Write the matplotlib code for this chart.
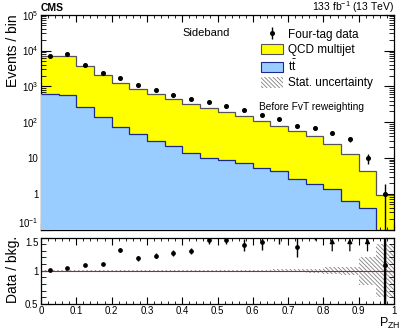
"""CMS-style stacked histogram with data/bkg ratio panel"""
import matplotlib
matplotlib.use("Agg")
import matplotlib.pyplot as plt
import numpy as np
from matplotlib.patches import Patch
from matplotlib.ticker import MultipleLocator, FixedLocator, NullFormatter, LogLocator

plt.rcParams.update({
    "font.family": ["Liberation Sans", "DejaVu Sans"],
    "mathtext.fontset": "custom",
    "mathtext.rm": "Liberation Sans",
    "mathtext.it": "Liberation Sans:italic",
    "mathtext.bf": "Liberation Sans:bold",
    "xtick.direction": "in",
    "ytick.direction": "in",
    "hatch.linewidth": 0.6,
    "axes.linewidth": 0.9,
})

# ── data ──
edges = np.linspace(0, 1, 21)
centers = 0.5 * (edges[:-1] + edges[1:])

# top of the stack (QCD + ttbar)
total_bkg = [7000, 7000, 3700, 2020, 1250, 850, 605, 438, 330, 241,
             186, 150, 106, 79, 58, 41, 23.7, 12.9, 4.2, 0.9]
ttbar = [605, 568, 257, 135, 72, 46, 30, 21.7, 14.1, 10.2,
         9.0, 7.4, 5.25, 4.25, 2.65, 1.92, 1.39, 0.63, 0.41, 0.05]
data = [7000, 8000, 3900, 2300, 1700, 1080, 783, 578, 430, 368,
        279, 212, 156, 121, 77, 68, 51, 33, 10, 0.97]
data_err = [80, 90, 60, 45, 40, 33, 28, 24, 21, 19,
            17, 15, 12, 11, 9, 8, 7, 5.5, 3.2, 0.95]

ratio = [1.015, 1.045, 1.086, 1.106, 1.314, 1.188, 1.227, 1.273, 1.303, 1.46,
         1.46, 1.39, 1.44, 1.53, 1.36, 1.66, 2.15, 2.5, 2.4, 1.08]
ratio_err = [0.01, 0.012, 0.015, 0.018, 0.025, 0.035, 0.038, 0.043, 0.045, 0.05,
             0.05, 0.095, 0.13, 0.13, 0.15, 0.19, 0.3, 0.4, 1.0, 1.1]
stat_unc = [0.005, 0.005, 0.005, 0.005, 0.005, 0.006, 0.006, 0.007, 0.008, 0.009,
            0.01, 0.01, 0.012, 0.02, 0.02, 0.03, 0.05, 0.06, 0.21, 0.4]
arrow_bins = [16, 17, 18]
xtick_labels = ["0", "0.1", "0.2", "0.3", "0.4", "0.5", "0.6", "0.7", "0.8", "0.9", "1"]

yellow = "#ffff00"
blue = "#99ccff"
hatch = "\\\\\\\\\\\\\\\\"

fig = plt.figure(figsize=(4.07, 3.35), dpi=100)
ax = fig.add_axes([41 / 407, 1 - 229.5 / 335, 353 / 407, 214.8 / 335])
rax = fig.add_axes([41 / 407, 1 - 303.7 / 335, 353 / 407, 66 / 335])

# ── main panel ──
ax.stairs(total_bkg, edges, baseline=1e-3, fill=True, color=yellow, zorder=1)
ax.stairs(total_bkg, edges, baseline=None, color="#555555", linewidth=0.9, zorder=2)
ax.stairs(ttbar, edges, baseline=1e-3, fill=True, color=blue, zorder=3)
ax.stairs(ttbar, edges, baseline=None, color="#1a2a8a", linewidth=0.9, zorder=4)
hdata = ax.errorbar(centers, data, yerr=data_err, fmt="o", color="black", ms=2.6,
                    elinewidth=1.0, capsize=0, zorder=5)

ax.set_yscale("log")
ax.set_ylim(0.1, 1e5)
ax.set_xlim(0, 1)
ax.yaxis.set_major_locator(FixedLocator([0.1, 1, 10, 100, 1e3, 1e4, 1e5]))
ax.yaxis.set_minor_locator(LogLocator(base=10, subs=np.arange(2, 10), numticks=20))
ax.set_yticklabels(["10$^{-1}$", "1", "10", "10$^{2}$", "10$^{3}$", "10$^{4}$", "10$^{5}$"])
ax.yaxis.set_minor_formatter(NullFormatter())
ax.xaxis.set_major_locator(MultipleLocator(0.1))
ax.xaxis.set_minor_locator(MultipleLocator(0.02))
ax.tick_params(axis="x", labelbottom=False)
ax.tick_params(which="both", top=True, right=True, labelsize=7, pad=2)
ax.tick_params(axis="y", which="major", length=7)
ax.tick_params(axis="y", which="minor", length=3.5)
ax.tick_params(axis="x", which="major", length=5)
ax.tick_params(axis="x", which="minor", length=2.5)
# lift the bottom label a little so it clears the ratio panel's "1.5"
ax.get_yticklabels()[0].set_verticalalignment("bottom")

handles = [hdata,
           Patch(facecolor=yellow, edgecolor="#555555", linewidth=0.8),
           Patch(facecolor=blue, edgecolor="#1a2a8a", linewidth=0.8),
           Patch(facecolor="white", edgecolor="#808080", hatch=hatch, linewidth=0)]
labels = ["Four-tag data", "QCD multijet", r"t$\bar{\rm t}$", "Stat. uncertainty"]
ax.legend(handles, labels, loc="upper left", bbox_to_anchor=(0.6, 0.975), frameon=False,
          fontsize=8.5, handlelength=1.9, handleheight=1.0, handletextpad=0.4,
          labelspacing=0.25, borderpad=0.2)

ax.text(0.4, 0.915, "Sideband", transform=ax.transAxes, fontsize=8, ha="left", va="center")
ax.text(0.618, 0.57, "Before FvT reweighting", transform=ax.transAxes, fontsize=7.3,
        ha="left", va="center")

fig.text(41 / 407, 1 - 8 / 335, "CMS", fontsize=7.5, fontweight="bold", ha="left", va="center")
fig.text(394 / 407, 1 - 7 / 335, r"133 fb$^{-1}$ (13 TeV)", fontsize=7.5, ha="right", va="center")
fig.text(13 / 407, 1 - 14 / 335, "Events / bin", rotation=90, fontsize=10, ha="center", va="top")
fig.text(13 / 407, 1 - 236 / 335, "Data / bkg.", rotation=90, fontsize=10, ha="center", va="top")

# ── ratio panel ──
unc_lo = [1 - u for u in stat_unc]
unc_hi = [1 + u for u in stat_unc]
rax.stairs(unc_hi, edges, baseline=unc_lo, fill=True, facecolor="none", edgecolor="#808080",
           hatch=hatch, linewidth=0, zorder=1)
rax.axhline(1, color="red", linewidth=0.8, zorder=2)
mask = [i for i in range(len(ratio)) if i not in arrow_bins]
rax.errorbar(centers[mask], np.array(ratio)[mask], yerr=np.array(ratio_err)[mask], fmt="o",
             color="black", ms=2.4, elinewidth=1.0, capsize=0, zorder=3)
rax.errorbar(centers[19], ratio[19], yerr=ratio_err[19], fmt="none", ecolor="black",
             elinewidth=1.6, capsize=0, zorder=3)
for i in arrow_bins:
    rax.annotate("", xy=(centers[i], 1.49), xytext=(centers[i], 1.3),
                 arrowprops=dict(arrowstyle="-|>", color="black", lw=0.9,
                                 mutation_scale=7, shrinkA=0, shrinkB=0), zorder=4)

rax.set_xlim(0, 1)
rax.set_ylim(0.5, 1.5)
rax.yaxis.set_major_locator(FixedLocator([0.5, 1, 1.5]))
rax.set_yticklabels(["0.5", "1", "1.5"])
rax.yaxis.set_minor_locator(MultipleLocator(0.1))
rax.xaxis.set_major_locator(FixedLocator(np.linspace(0, 1, 11)))
rax.set_xticklabels(xtick_labels)
rax.xaxis.set_minor_locator(MultipleLocator(0.02))
rax.tick_params(which="both", top=True, right=True, labelsize=7, pad=2)
rax.tick_params(axis="y", which="major", length=7)
rax.tick_params(axis="y", which="minor", length=3.5)
rax.tick_params(axis="x", which="major", length=5)
rax.tick_params(axis="x", which="minor", length=2.5)
rax.get_yticklabels()[2].set_verticalalignment("top")

fig.text(400 / 407, 1 - 323 / 335, r"P$_{\rm ZH}$", fontsize=9, ha="right", va="center")

fig.savefig("out.png", dpi=100)
